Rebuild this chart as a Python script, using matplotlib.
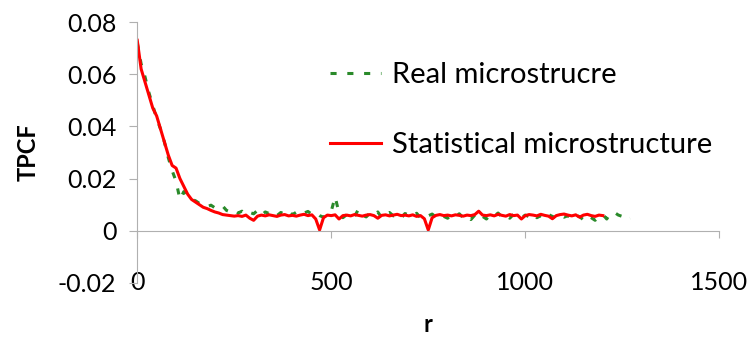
import matplotlib
matplotlib.use("Agg")
import matplotlib.pyplot as plt

# TPCF data, step 10 in r
r_stat_step = 10
stat_vals = [
    0.073, 0.062, 0.057, 0.052, 0.047, 0.044, 0.039, 0.034, 0.029, 0.025,
    0.024, 0.020, 0.017, 0.014, 0.012, 0.011, 0.010, 0.009, 0.0085, 0.0078,
    0.0072, 0.0068, 0.0062, 0.0060, 0.0058, 0.0056, 0.0058, 0.0055, 0.0060, 0.0048,
    0.0040, 0.0056, 0.0060, 0.0057, 0.0061, 0.0058, 0.0055, 0.0060, 0.0062, 0.0057,
    0.0059, 0.0056, 0.0060, 0.0063, 0.0058, 0.0061, 0.0045, 0.0003, 0.0050, 0.0060,
    0.0058, 0.0061, 0.0045, 0.0058, 0.0060, 0.0057, 0.0062, 0.0059, 0.0056, 0.0060,
    0.0062, 0.0058, 0.0048, 0.0059, 0.0061, 0.0057, 0.0060, 0.0063, 0.0058, 0.0060,
    0.0057, 0.0061, 0.0055, 0.0058, 0.0046, 0.0003, 0.0050, 0.0059, 0.0062, 0.0058,
    0.0060, 0.0057, 0.0061, 0.0059, 0.0056, 0.0060, 0.0058, 0.0062, 0.0075, 0.0060,
    0.0058, 0.0061, 0.0057, 0.0063, 0.0059, 0.0056, 0.0062, 0.0058, 0.0060, 0.0045,
    0.0058, 0.0062, 0.0060, 0.0057, 0.0063, 0.0059, 0.0056, 0.0046, 0.0058, 0.0062,
    0.0064, 0.0060, 0.0057, 0.0061, 0.0052, 0.0060, 0.0063, 0.0058, 0.0055, 0.0060,
    0.0058,
]
real_vals = [
    0.072, 0.064, 0.059, 0.053, 0.048, 0.043, 0.039, 0.034, 0.028, 0.023,
    0.019, 0.012, 0.015, 0.013, 0.012, 0.0115, 0.0105, 0.010, 0.0092, 0.0098,
    0.0088, 0.0085, 0.0095, 0.0078, 0.0072, 0.0080, 0.0068, 0.0075, 0.0062, 0.0070,
    0.0065, 0.0078, 0.0060, 0.0072, 0.0066, 0.0074, 0.0058, 0.0070, 0.0064, 0.0076,
    0.0062, 0.0071, 0.0060, 0.0068, 0.0074, 0.0063, 0.0069, 0.0058, 0.0052, 0.0060,
    0.0075, 0.0130, 0.0068, 0.0050, 0.0062, 0.0070, 0.0055, 0.0082, 0.0060, 0.0053,
    0.0068, 0.0058, 0.0072, 0.0050, 0.0064, 0.0070, 0.0057, 0.0062, 0.0048, 0.0066,
    0.0060, 0.0054, 0.0067, 0.0050, 0.0062, 0.0057, 0.0064, 0.0052, 0.0060, 0.0055,
    0.0048, 0.0062, 0.0056, 0.0065, 0.0050, 0.0058, 0.0043, 0.0060, 0.0070, 0.0055,
    0.0045, 0.0062, 0.0056, 0.0068, 0.0052, 0.0060, 0.0048, 0.0063, 0.0055, 0.0050,
    0.0060, 0.0054, 0.0066, 0.0050, 0.0058, 0.0046, 0.0062, 0.0055, 0.0048, 0.0060,
    0.0052, 0.0058, 0.0046, 0.0060, 0.0054, 0.0042, 0.0058, 0.0050, 0.0040, 0.0055,
    0.0062, 0.0045, 0.0068, 0.0070, 0.0060, 0.0055, 0.0040, 0.0048,
]
r_stat = [i * r_stat_step for i in range(len(stat_vals))]
r_real = [i * r_stat_step for i in range(len(real_vals))]

x_ticks = [0, 500, 1000, 1500]
y_ticks = [-0.02, 0, 0.02, 0.04, 0.06, 0.08]
y_labels = ['-0.02', '0', '0.02', '0.04', '0.06', '0.08']

plt.rcParams['font.family'] = ['Lato', 'DejaVu Sans']

fig = plt.figure(figsize=(7.5, 3.55), dpi=100)
ax = fig.add_axes([0.183, 0.203, 0.776, 0.735])

ax.plot(r_real, real_vals, color='#2A8A2A', lw=2.2, linestyle=(0, (2, 3.5)),
        label='Real microstrucre')
ax.plot(r_stat, stat_vals, color='#FF0000', lw=2.2,
        label='Statistical microstructure')

ax.set_xlim(0, 1500)
ax.set_ylim(-0.02, 0.08)
ax.set_xticks(x_ticks)
ax.set_yticks(y_ticks)
ax.set_yticklabels(y_labels)

axis_gray = '#B0B0B0'
ax.spines['top'].set_visible(False)
ax.spines['right'].set_visible(False)
ax.spines['bottom'].set_position(('data', 0))
ax.spines['bottom'].set_color(axis_gray)
ax.spines['left'].set_color(axis_gray)
ax.tick_params(axis='y', direction='out', length=6, color=axis_gray,
               labelsize=18, pad=9)
ax.tick_params(axis='x', direction='out', length=5, color=axis_gray,
               labelsize=18, pad=24)

ax.set_ylabel('TPCF', fontsize=17, fontweight='bold', labelpad=13)
fig.text(0.571, 0.085, 'r', fontsize=17, fontweight='bold',
         ha='center', va='center')

ax.legend(loc='center left', bbox_to_anchor=(0.421, 0.69),
          bbox_transform=fig.transFigure, frameon=False, fontsize=21,
          handlelength=1.75, handletextpad=0.35, labelspacing=1.5,
          borderpad=0)

fig.savefig('out.png', dpi=100, facecolor='white')
